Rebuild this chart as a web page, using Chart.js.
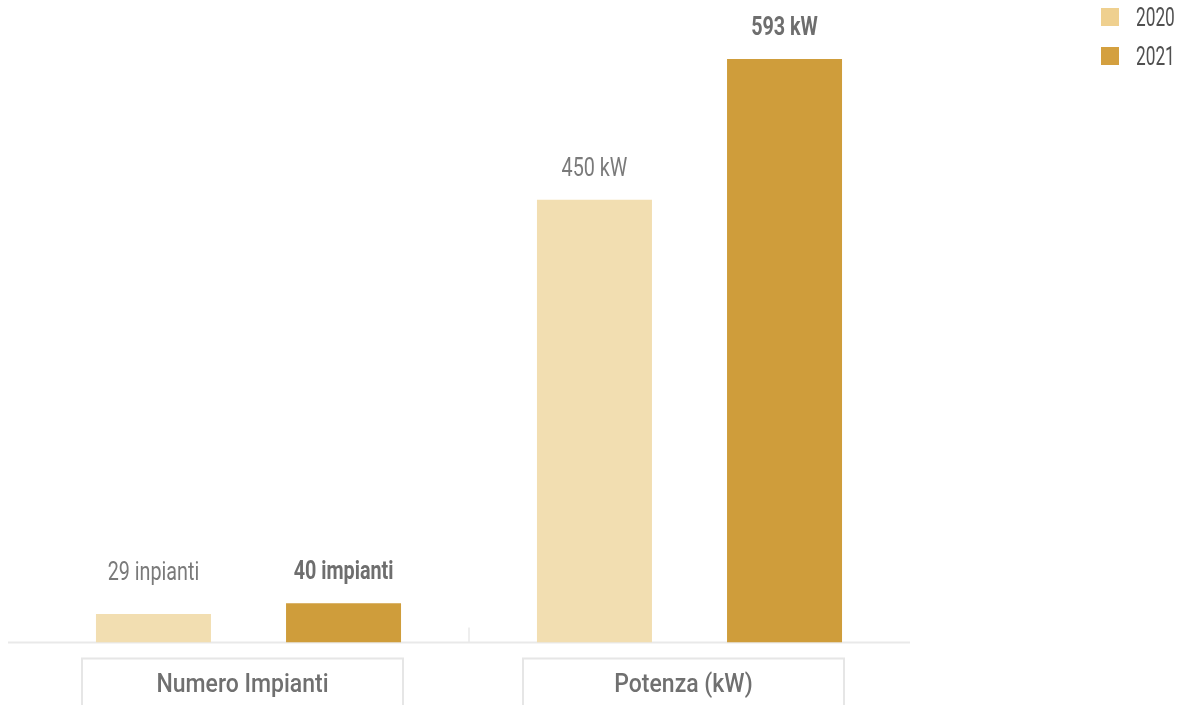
<!DOCTYPE html>
<html>
<head>
<meta charset="utf-8">
<script src="https://cdn.jsdelivr.net/npm/chart.js@4.4.0/dist/chart.umd.min.js"></script>
<style>
  html, body { margin: 0; padding: 0; background: #fff; }
  #wrap { position: relative; width: 1184px; height: 705px; overflow: hidden; }
</style>
</head>
<body>
<div id="wrap">
  <canvas id="chart" width="1184" height="705"></canvas>
</div>
<script>
const categories = ['Numero Impianti', 'Potenza (kW)'];
const years = ['2020', '2021'];
const values2020 = [29, 450];
const values2021 = [40, 593];
// the 2020 count label reads "inpianti" in the source
const labels2020 = ['29 inpianti', '450 kW'];
const labels2021 = ['40 impianti', '593 kW'];

const barColors = ['#F2DEB1', '#CF9D3B'];
const legendColors = ['#EFD08F', '#D4A03F'];
const FONT = 'Roboto, "DejaVu Sans Condensed", sans-serif';

// draw text squeezed horizontally to get a condensed face
function condensedText(ctx, text, x, y, sx) {
  ctx.save();
  ctx.translate(x, y);
  ctx.scale(sx, 1);
  ctx.fillText(text, 0, 0);
  ctx.restore();
}

// baseline, divider tick, boxed category labels and legend
const axisDecor = {
  id: 'axisDecor',
  beforeDatasetsDraw(chart) {
    const { ctx, chartArea, scales: { x } } = chart;
    ctx.save();
    ctx.strokeStyle = '#e9e9e9';
    ctx.lineWidth = 2;
    ctx.beginPath();
    ctx.moveTo(8, chartArea.bottom);
    ctx.lineTo(chartArea.right, chartArea.bottom);
    ctx.stroke();
    // divider between categories
    const mid = (x.getPixelForValue(0) + x.getPixelForValue(1)) / 2;
    ctx.lineWidth = 1.5;
    ctx.beginPath();
    ctx.moveTo(mid, chartArea.bottom - 15);
    ctx.lineTo(mid, chartArea.bottom);
    ctx.stroke();
    ctx.restore();
  },
  afterDraw(chart) {
    const { ctx, chartArea, scales: { x } } = chart;
    ctx.save();
    ctx.textAlign = 'center';
    ctx.textBaseline = 'alphabetic';
    categories.forEach((c, i) => {
      const cx = x.getPixelForValue(i) - 6;
      const top = chartArea.bottom + 16;
      ctx.strokeStyle = '#e6e6e6';
      ctx.lineWidth = 2;
      ctx.strokeRect(cx - 160.5, top, 321, 80);
      ctx.fillStyle = '#707070';
      ctx.font = '500 25px ' + FONT;
      condensedText(ctx, c, cx, top + 33, 0.92);
    });

    ctx.textAlign = 'left';
    chart.data.datasets.forEach((ds, i) => {
      const y = 8 + i * 39;
      ctx.fillStyle = legendColors[i];
      ctx.fillRect(1101, y, 18, 18);
      ctx.fillStyle = '#505050';
      ctx.font = '25px ' + FONT;
      condensedText(ctx, ds.label, 1136, y + 18, 0.69);
    });
    ctx.restore();
  }
};

// value labels above the bars
const valueLabels = {
  id: 'valueLabels',
  afterDatasetsDraw(chart) {
    const { ctx, chartArea } = chart;
    ctx.save();
    ctx.textAlign = 'center';
    ctx.textBaseline = 'alphabetic';
    chart.data.datasets.forEach((ds, di) => {
      const meta = chart.getDatasetMeta(di);
      meta.data.forEach((bar, i) => {
        const y = Math.min(bar.y - 24, chartArea.bottom - 63);
        ctx.font = (di === 1 ? 'bold ' : '') + '25px ' + FONT;
        ctx.fillStyle = di === 1 ? '#6e6e6e' : '#7a7a7a';
        condensedText(ctx, ds.valueLabels[i], bar.x, y, 0.79);
      });
    });
    ctx.restore();
  }
};

new Chart(document.getElementById('chart'), {
  type: 'bar',
  data: {
    labels: categories,
    datasets: [
      { label: years[0], data: values2020, valueLabels: labels2020, backgroundColor: barColors[0] },
      { label: years[1], data: values2021, valueLabels: labels2021, backgroundColor: barColors[1] }
    ]
  },
  options: {
    responsive: false,
    animation: false,
    layout: { padding: { left: 28, right: 274, top: 52, bottom: 62.5 } },
    datasets: { bar: { categoryPercentage: 0.862, barPercentage: 0.605, borderWidth: 0 } },
    plugins: { legend: { display: false }, tooltip: { enabled: false } },
    scales: {
      x: { display: false },
      y: { display: false, min: 0, max: 600 }
    }
  },
  plugins: [axisDecor, valueLabels]
});
</script>
</body>
</html>
